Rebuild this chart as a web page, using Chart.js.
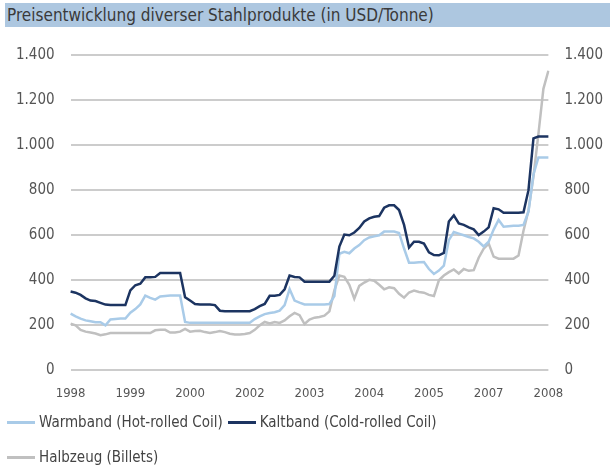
<!DOCTYPE html>
<html>
<head>
<meta charset="utf-8">
<script src="https://cdn.jsdelivr.net/npm/chart.js@4.4.1/dist/chart.umd.min.js"></script>
<style>
  body { margin: 0; background: #fff; }
  #wrap { position: relative; width: 610px; height: 466px; overflow: hidden; }
  #title {
    position: absolute; left: 5px; right: 0; top: 3px; height: 24px;
    background: #adc7e0; color: #3a3a3a;
    font: 17px "Liberation Sans Narrow", "DejaVu Sans Condensed", "Open Sans", sans-serif;
    line-height: 24px; padding-left: 2px; white-space: nowrap;
  }
  #box { position: absolute; left: 0; top: 30px; width: 610px; height: 378px; }
  #legend {
    position: absolute; left: 7px; top: 405px; width: 450px;
    font: 15px "Liberation Sans Narrow", "DejaVu Sans Condensed", "Open Sans", sans-serif;
    color: #444; line-height: 35px;
  }
  #legend .item { display: inline-block; margin-right: 5px; white-space: nowrap; }
  #legend .swatch { display: inline-block; width: 28px; height: 3px; vertical-align: middle; margin-right: 4px; }
</style>
</head>
<body>
<div id="wrap">
  <div id="title">Preisentwicklung diverser Stahlprodukte (in USD/Tonne)</div>
  <div id="box"><canvas id="chart"></canvas></div>
  <div id="legend"></div>
</div>
<script>
  const fontFamily = '"Liberation Sans Narrow", "DejaVu Sans Condensed", "Open Sans", sans-serif';

  // tick labels on the x axis, one every 12 points
  const tickLabels = ['1998', '1999', '2000', '2002', '2003', '2004', '2005', '2007', '2008'];

  const seriesNames = ['Warmband (Hot-rolled Coil)', 'Kaltband (Cold-rolled Coil)', 'Halbzeug (Billets)'];

  // values, USD per tonne
  const warmband = [
    252, 240, 230, 222, 218, 214, 214, 200, 226, 228, 230, 230,
    256, 272, 293, 332, 322, 314, 328, 330, 332, 332, 332, 215,
    211, 211, 211, 211, 211, 211, 211, 211, 211, 211, 211, 211,
    211, 228, 240, 250, 255, 258, 265, 290, 361, 310, 301, 293,
    293, 293, 293, 293, 295, 330, 518, 526, 520, 541, 556, 578,
    590, 595, 600, 616, 616, 616, 610, 541, 478, 478, 480, 481,
    450, 428, 443, 465, 578, 614, 607, 600, 592, 586, 571, 550,
    571, 625, 668, 638, 640, 642, 642, 646, 705, 870, 945, 945,
    945
  ];
  const kaltband = [
    350, 345, 335, 320, 310, 308, 300, 292, 290, 290, 290, 290,
    355, 378, 385, 413, 413, 415, 432, 432, 432, 432, 432, 325,
    310, 295, 293, 293, 293, 290, 265, 263, 263, 263, 263, 263,
    263, 272, 285, 295, 331, 331, 335, 360, 421, 415, 413, 394,
    394, 394, 394, 394, 394, 420, 550, 603, 600, 612, 632, 661,
    675, 682, 685, 722, 733, 733, 712, 646, 545, 571, 571, 563,
    524, 512, 511, 522, 661, 688, 652, 646, 635, 626, 601, 616,
    635, 720, 715, 700, 700, 700, 700, 702, 800, 1030, 1038, 1038,
    1038
  ];
  const halbzeug = [
    207, 200, 180, 172, 168, 164, 156, 160, 166, 166, 166, 166,
    166, 166, 166, 166, 166, 178, 180, 180, 168, 168, 172, 184,
    172, 175, 176, 170, 166, 170, 175, 170, 163, 159, 159, 162,
    166, 180, 200, 215, 208, 215, 211, 222, 240, 255, 245, 206,
    226, 234, 237, 243, 262, 355, 421, 415, 380, 318, 375, 390,
    402, 398, 380, 360, 369, 365, 340, 323, 346, 354, 348, 345,
    335, 330, 400, 421, 436, 448, 430, 450, 442, 445, 500, 540,
    563, 505, 496, 496, 496, 496, 510, 620, 710, 860, 1050, 1250,
    1330
  ];

  const colors = ['#a9cbe8', '#1c3461', '#c0c0c0'];

  const categories = warmband.map((v, i) => (i % 12 === 0 ? tickLabels[i / 12] : ''));

  const fmt = v => v >= 1000 ? Math.floor(v / 1000) + '.' + String(v % 1000).padStart(3, '0') : String(v);

  const ctx = document.getElementById('chart').getContext('2d');
  const chart = new Chart(ctx, {
    type: 'line',
    data: {
      labels: categories,
      datasets: [
        { label: seriesNames[0], data: warmband, borderColor: colors[0], backgroundColor: colors[0], order: 1 },
        { label: seriesNames[1], data: kaltband, borderColor: colors[1], backgroundColor: colors[1], order: 0 },
        { label: seriesNames[2], data: halbzeug, borderColor: colors[2], backgroundColor: colors[2], order: 2 }
      ]
    },
    options: {
      responsive: true,
      maintainAspectRatio: false,
      animation: false,
      layout: { padding: { left: 0, right: -9, top: 17, bottom: 0 } },
      elements: {
        line: { borderWidth: 2.5, tension: 0 },
        point: { radius: 0 }
      },
      scales: {
        x: {
          grid: { display: false },
          border: { display: false },
          ticks: {
            autoSkip: false,
            maxRotation: 0,
            padding: 7,
            color: '#555',
            font: { family: fontFamily, size: 13 },
            callback: function (value, index) {
              return categories[index] || null;
            }
          }
        },
        y: {
          min: 0,
          max: 1400,
          position: 'left',
          border: { display: false },
          grid: { color: '#cccccc', lineWidth: 2, drawTicks: false },
          ticks: {
            stepSize: 200,
            padding: 16,
            color: '#555',
            font: { family: fontFamily, size: 15 },
            callback: v => fmt(v)
          }
        },
        y2: {
          min: 0,
          max: 1400,
          position: 'right',
          border: { display: false },
          grid: { display: false, drawTicks: false },
          ticks: {
            stepSize: 200,
            padding: 16,
            color: '#555',
            font: { family: fontFamily, size: 15 },
            callback: v => fmt(v)
          }
        }
      },
      plugins: {
        tooltip: { enabled: false },
        legend: { display: false }
      }
    }
  });

  // Build legend from the chart's datasets
  const legend = document.getElementById('legend');
  chart.data.datasets.forEach(ds => {
    const item = document.createElement('span');
    item.className = 'item';
    item.innerHTML = `<span class="swatch" style="background:${ds.borderColor}"></span>${ds.label}`;
    legend.appendChild(item);
  });
</script>
</body>
</html>
